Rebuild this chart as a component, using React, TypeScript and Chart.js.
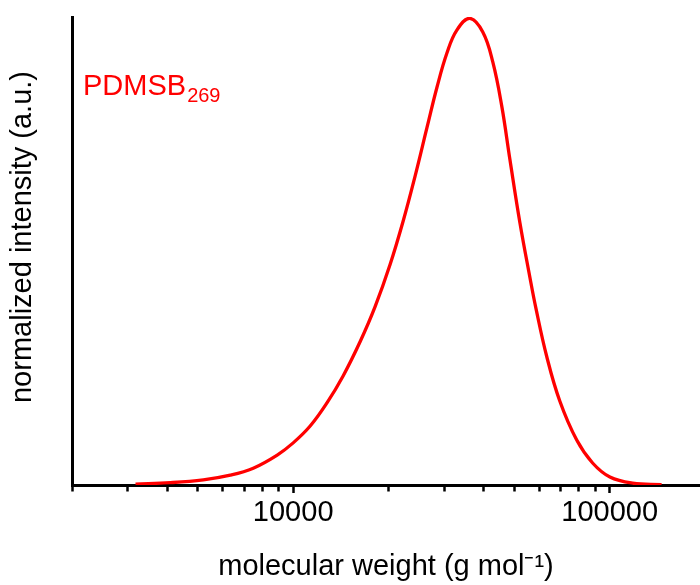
import React, { useEffect, useRef } from 'react';
import { Chart, registerables } from 'chart.js';

Chart.register(...registerables);

// ---- data ----
const molecularWeight = [
  3175, 4093, 5200, 6327, 7480, 8903, 10000, 11315, 12800, 14380, 16270, 18150,
  20240, 22240, 24280, 26480, 28470, 30610, 32900, 36150, 39730, 42730, 45630,
  48390, 52040, 55930, 58430, 63300, 69530, 78700, 88340, 100200, 118300, 145900,
];
const intensity = [
  0.002, 0.005, 0.011, 0.021, 0.036, 0.064, 0.09, 0.126, 0.176, 0.233, 0.306, 0.381,
  0.471, 0.563, 0.66, 0.764, 0.85, 0.923, 0.972, 0.997, 0.968, 0.904, 0.809,
  0.696, 0.561, 0.445, 0.379, 0.274, 0.18, 0.096, 0.047, 0.017, 0.004, 0.001,
];
const majorTicks = [10000, 100000];
const majorTickLabels = ['10000', '100000'];
const minorTicks = [
  2000, 3000, 4000, 5000, 6000, 7000, 8000, 9000,
  20000, 30000, 40000, 50000, 60000, 70000, 80000, 90000,
];
const seriesName = 'PDMSB';
const seriesSubscript = '269';
const xTitle = 'molecular weight (g mol\u207B\u00B9)';
const yTitle = 'normalized intensity (a.u.)';

const FONT = "'Liberation Sans', Arial, Helvetica, sans-serif";

const textPlugin = {
  id: 'textOverlay',
  afterDraw(chart: any) {
    const { ctx, chartArea } = chart;
    ctx.save();
    // series label with subscript
    ctx.fillStyle = '#ff0000';
    ctx.textBaseline = 'alphabetic';
    ctx.textAlign = 'left';
    ctx.font = `29px ${FONT}`;
    const x = chartArea.left + 11;
    const y = chartArea.top + 78;
    ctx.fillText(seriesName, x, y);
    const w = ctx.measureText(seriesName).width;
    ctx.font = `20px ${FONT}`;
    ctx.fillText(seriesSubscript, x + w + 1, y + 7);
    // y axis title (rotated)
    ctx.fillStyle = '#000';
    ctx.font = `29px ${FONT}`;
    ctx.textAlign = 'center';
    ctx.textBaseline = 'middle';
    ctx.translate(22.5, 237);
    ctx.rotate(-Math.PI / 2);
    ctx.fillText(yTitle, 0, 0);
    ctx.restore();
  },
};

export default function App() {
  const canvasRef = useRef<HTMLCanvasElement | null>(null);

  useEffect(() => {
    document.body.style.margin = '0';
    const canvas = canvasRef.current;
    if (!canvas) return;
    const allTicks = [...minorTicks, ...majorTicks].sort((a, b) => a - b);
    const chart = new Chart(canvas, {
      type: 'line',
      data: {
        datasets: [
          {
            label: seriesName + seriesSubscript,
            data: molecularWeight.map((m, i) => ({ x: m, y: intensity[i] })),
            borderColor: '#ff0000',
            borderWidth: 3.3,
            pointRadius: 0,
            fill: false,
            tension: 0.4,
          },
        ],
      },
      options: {
        responsive: false,
        animation: false,
        layout: { padding: { top: 17, right: 0, bottom: 0, left: 0 } },
        plugins: {
          legend: { display: false },
          tooltip: { enabled: false },
          title: { display: false },
        },
        scales: {
          x: {
            type: 'logarithmic',
            min: 2000,
            max: 193000,
            afterBuildTicks: (scale: any) => {
              scale.ticks = allTicks.map((v) => ({ value: v, major: majorTicks.includes(v) }));
            },
            afterFit: (scale: any) => {
              scale.height = 100;
            },
            ticks: {
              autoSkip: false,
              maxRotation: 0,
              minRotation: 0,
              padding: 3,
              color: '#000',
              font: { family: FONT, size: 29 },
              callback: (value: any) => {
                const idx = majorTicks.indexOf(Number(value));
                return idx >= 0 ? majorTickLabels[idx] : '';
              },
            },
            grid: {
              display: true,
              drawOnChartArea: false,
              drawTicks: true,
              tickLength: 8,
              tickWidth: 2.5,
              tickColor: '#000',
              tickBorderDash: (ctx: any) =>
                ctx.tick && majorTicks.includes(ctx.tick.value) ? [] : [4.5, 60],
            },
            border: { display: true, color: '#000', width: 3 },
            title: {
              display: true,
              text: xTitle,
              color: '#000',
              font: { family: FONT, size: 29 },
              padding: { top: 0, bottom: 1 },
            },
          },
          y: {
            type: 'linear',
            min: 0,
            max: 1,
            afterFit: (scale: any) => {
              scale.width = 72;
            },
            ticks: { display: false },
            grid: { display: false },
            border: { display: true, color: '#000', width: 3 },
            title: { display: false },
          },
        },
      },
      plugins: [textPlugin],
    } as any);
    return () => chart.destroy();
  }, []);

  return (
    <div style={{ width: 700, height: 585 }}>
      <canvas ref={canvasRef} width={700} height={585} style={{ display: 'block' }} />
    </div>
  );
}
